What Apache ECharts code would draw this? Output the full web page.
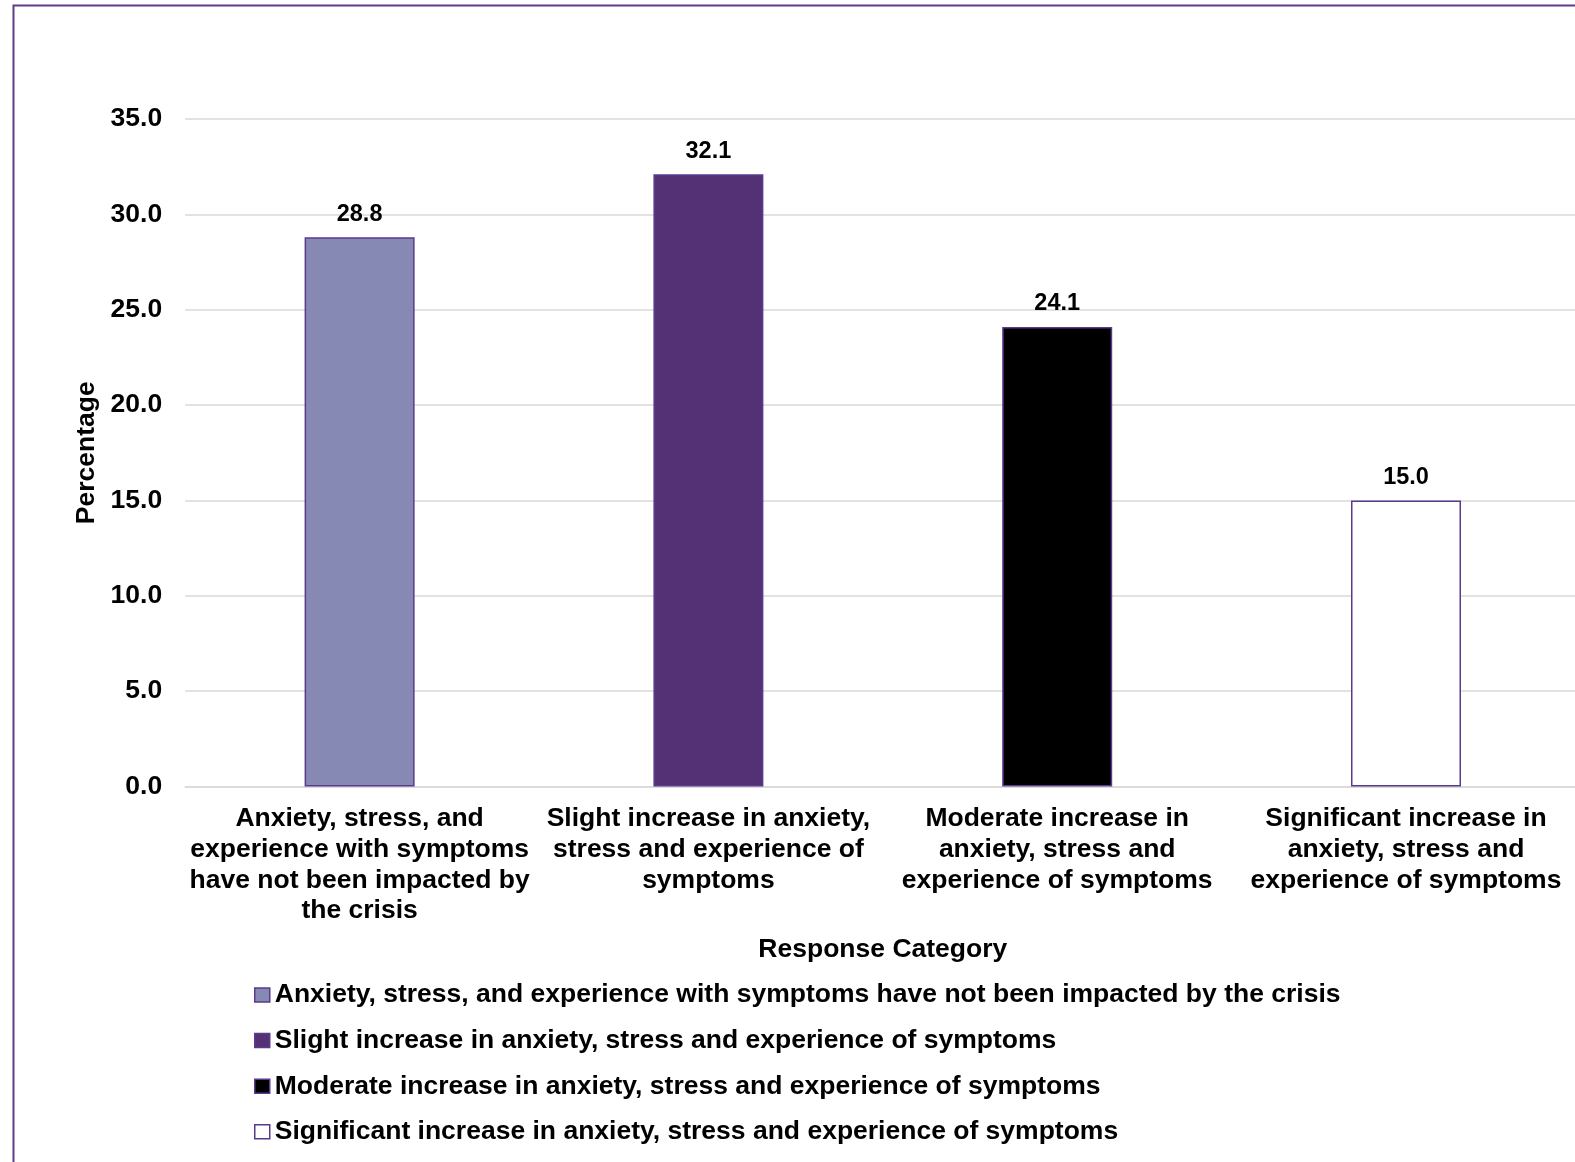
<!DOCTYPE html>
<html>
<head>
<meta charset="utf-8">
<title>Response Category</title>
<script src="https://cdn.jsdelivr.net/npm/echarts@6/dist/echarts.min.js"></script>
<style>
  html, body { margin: 0; padding: 0; background: #ffffff; }
  #chart { width: 1575px; height: 1162px; }
</style>
</head>
<body>
<div id="chart"></div>
<script>
// Response categories (full names, used by the legend)
const categories = [
  'Anxiety, stress, and experience with symptoms have not been impacted by the crisis',
  'Slight increase in anxiety, stress and experience of symptoms',
  'Moderate increase in anxiety, stress and experience of symptoms',
  'Significant increase in anxiety, stress and experience of symptoms'
];

// Wrapped axis labels for the same categories
const categoryLabels = [
  'Anxiety, stress, and\nexperience with symptoms\nhave not been impacted by\nthe crisis',
  'Slight increase in anxiety,\nstress and experience of\nsymptoms',
  'Moderate increase in\nanxiety, stress and\nexperience of symptoms',
  'Significant increase in\nanxiety, stress and\nexperience of symptoms'
];

// Percentage of respondents per category
const percentages = [28.8, 32.1, 24.1, 15.0];

// Fill colour per category
const barColors = ['#8689b4', '#533174', '#000000', '#ffffff'];

const FONT = '"Liberation Sans", Arial, sans-serif';
const BORDER = '#5b3a8c';

// One series per category so each gets its own legend entry;
// a shared stack keeps every bar centred on its category.
const series = categories.map((name, i) => ({
  name: name,
  type: 'bar',
  stack: 'all',
  barWidth: 110,
  data: percentages.map((v, j) => (j === i ? v : '-')),
  itemStyle: { color: barColors[i], borderColor: BORDER, borderWidth: 1.5 },
  label: {
    show: true,
    position: 'top',
    distance: 11,
    formatter: p => Number(p.value).toFixed(1),
    fontFamily: FONT,
    fontWeight: 'bold',
    fontSize: 23.5,
    color: '#000'
  }
}));

const chart = echarts.init(document.getElementById('chart'), null, { renderer: 'canvas' });

chart.setOption({
  backgroundColor: '#ffffff',
  animation: false,
  textStyle: { fontFamily: FONT },
  graphic: [{
    type: 'rect',
    silent: true,
    z: -1,
    shape: { x: 13.5, y: 5.5, width: 3000, height: 3000 },
    style: { fill: 'none', stroke: '#5f3b8c', lineWidth: 2 }
  }],
  // Plot area runs slightly past the right edge of the canvas
  grid: {
    left: 185.2,
    width: 1395.2,
    top: 119,
    bottom: 375.5,
    containLabel: false,
    outerBoundsMode: 'none'
  },
  legend: {
    orient: 'vertical',
    left: 249,
    top: 975,
    itemWidth: 15,
    itemHeight: 14,
    itemGap: 15.6,
    icon: 'rect',
    itemStyle: { borderColor: BORDER, borderWidth: 1.5 },
    textStyle: {
      fontFamily: FONT,
      fontWeight: 'bold',
      fontSize: 26.5,
      lineHeight: 30,
      color: '#000'
    },
    data: categories
  },
  xAxis: {
    type: 'category',
    data: categoryLabels,
    name: 'Response Category',
    nameLocation: 'middle',
    nameGap: 150,
    nameTextStyle: { fontFamily: FONT, fontWeight: 'bold', fontSize: 26.5, color: '#000' },
    axisLine: { show: true, lineStyle: { color: '#d9d9d9', width: 1.5 } },
    axisTick: { show: false },
    axisLabel: {
      interval: 0,
      margin: 17,
      fontFamily: FONT,
      fontWeight: 'bold',
      fontSize: 26.5,
      lineHeight: 30.7,
      color: '#000'
    }
  },
  yAxis: {
    type: 'value',
    min: 0,
    max: 35,
    interval: 5,
    name: 'Percentage',
    nameLocation: 'middle',
    nameGap: 81,
    nameTextStyle: { fontFamily: FONT, fontWeight: 'bold', fontSize: 26.5, color: '#000' },
    axisLine: { show: false },
    axisTick: { show: false },
    splitLine: { show: true, lineStyle: { color: '#d9d9d9', width: 1.5 } },
    axisLabel: {
      margin: 23,
      padding: [6, 0, 0, 0],
      formatter: v => v.toFixed(1),
      fontFamily: FONT,
      fontWeight: 'bold',
      fontSize: 26.5,
      color: '#000'
    }
  },
  series: series
});
</script>
</body>
</html>
